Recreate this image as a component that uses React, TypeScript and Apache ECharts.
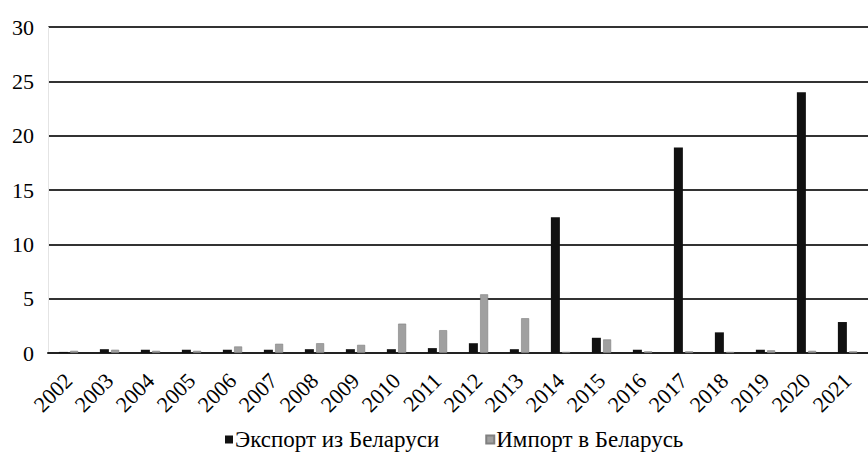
import React, { useEffect, useRef } from "react";
import * as echarts from "echarts";

const years = ["2002","2003","2004","2005","2006","2007","2008","2009","2010","2011","2012","2013","2014","2015","2016","2017","2018","2019","2020","2021"];
const exportBy = [0.1,0.35,0.3,0.3,0.3,0.3,0.35,0.35,0.35,0.45,0.9,0.35,12.5,1.4,0.3,18.9,1.9,0.3,24.0,2.85];
const importBy = [0.2,0.3,0.2,0.2,0.6,0.85,0.9,0.75,2.7,2.1,5.4,3.2,0.1,1.25,0.15,0.15,0.1,0.25,0.2,0.15];
const yTicks = [0, 5, 10, 15, 20, 25, 30];
const seriesNames = ["Экспорт из Беларуси", "Импорт в Беларусь"];

const FONT = "Liberation Serif";

export default function App() {
  const ref = useRef<HTMLDivElement>(null);
  useEffect(() => {
    if (!ref.current) return;
    const chart = echarts.init(ref.current, null, { renderer: "svg" });
    chart.setOption({
      animation: false,
      backgroundColor: "#ffffff",
      textStyle: { fontFamily: FONT },
      grid: { left: 48, right: 0, top: 27, bottom: 111, containLabel: false },
      legend: {
        bottom: 8,
        left: 220,
        itemWidth: 8,
        itemHeight: 8,
        itemGap: 46,
        icon: "rect",
        textStyle: { fontFamily: FONT, fontSize: 23, color: "#000", padding: [0, 0, 0, -3] },
        data: seriesNames,
      },
      xAxis: {
        type: "category",
        data: years,
        axisLine: { lineStyle: { color: "#222", width: 2 } },
        axisTick: { show: false },
        axisLabel: {
          rotate: 45,
          margin: 24,
          interval: 0,
          fontFamily: FONT,
          fontSize: 22,
          color: "#000",
        },
      },
      yAxis: {
        type: "value",
        min: yTicks[0],
        max: yTicks[yTicks.length - 1],
        interval: 5,
        axisLine: { show: true, lineStyle: { color: "#e4e4e4", width: 1 } },
        axisTick: { show: false },
        splitLine: { lineStyle: { color: "#333", width: 2 } },
        axisLabel: {
          margin: 14,
          fontFamily: FONT,
          fontSize: 22,
          color: "#000",
        },
      },
      series: [
        {
          name: seriesNames[0],
          type: "bar",
          data: exportBy,
          barWidth: 9,
          barGap: "25%",
          itemStyle: { color: "#111" },
        },
        {
          name: seriesNames[1],
          type: "bar",
          data: importBy,
          barWidth: 8,
          itemStyle: { color: "#a0a0a0", borderColor: "#808080", borderWidth: 0.6 },
        },
      ],
    });
    return () => chart.dispose();
  }, []);
  return (
    <div
      ref={ref}
      style={{ position: "fixed", left: 0, top: 0, width: 868, height: 464 }}
    />
  );
}
